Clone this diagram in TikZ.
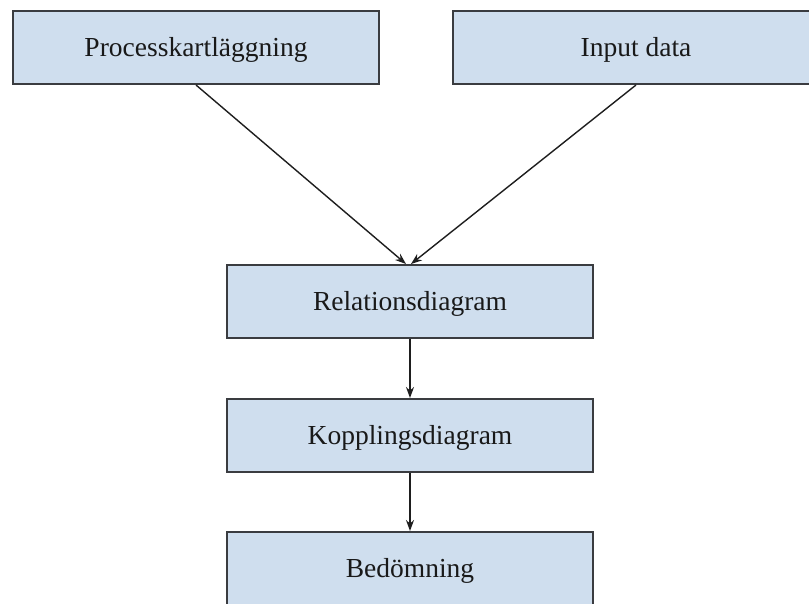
\documentclass[tikz,border=0pt]{standalone}
\usepackage{fontspec}
\setmainfont{Liberation Serif}
\usetikzlibrary{arrows.meta}
\definecolor{boxfill}{RGB}{207,222,238}
\definecolor{boxline}{RGB}{58,60,64}
\definecolor{arrowline}{RGB}{30,30,30}
\tikzset{
  stepbox/.style={draw=boxline, fill=boxfill, line width=2pt, rectangle,
    minimum width=366pt, minimum height=73pt, inner sep=0pt,
    text height=18.5pt, text depth=0pt,
    font=\fontsize{27.5}{33}\selectfont, text=black!90},
  flow/.style={draw=arrowline, line width=1.4pt,
    -{Stealth[length=11pt,width=8pt]}}
}
\begin{document}
\begin{tikzpicture}[x=1pt, y=-1pt]
  \useasboundingbox (0,0) rectangle (809,603);
  \clip (0,0) rectangle (809,603);
  \fill[white] (0,0) rectangle (809,603);

  \node[stepbox] (proc)  at (196,47.5)  {Processkartläggning};
  \node[stepbox] (input) at (636,47.5)  {Input data};
  \node[stepbox] (rel)   at (410,301.5) {Relationsdiagram};
  \node[stepbox] (kopp)  at (410,435.5) {Kopplingsdiagram};
  \node[stepbox] (bed)   at (410,568.5) {Bedömning};

  \draw[flow] (proc.south) -- ([xshift=-4pt]rel.north);
  \draw[flow] (input.south) -- ([xshift=1pt]rel.north);
  \draw[flow] (rel.south) -- (kopp.north);
  \draw[flow] (kopp.south) -- (bed.north);
\end{tikzpicture}
\end{document}
